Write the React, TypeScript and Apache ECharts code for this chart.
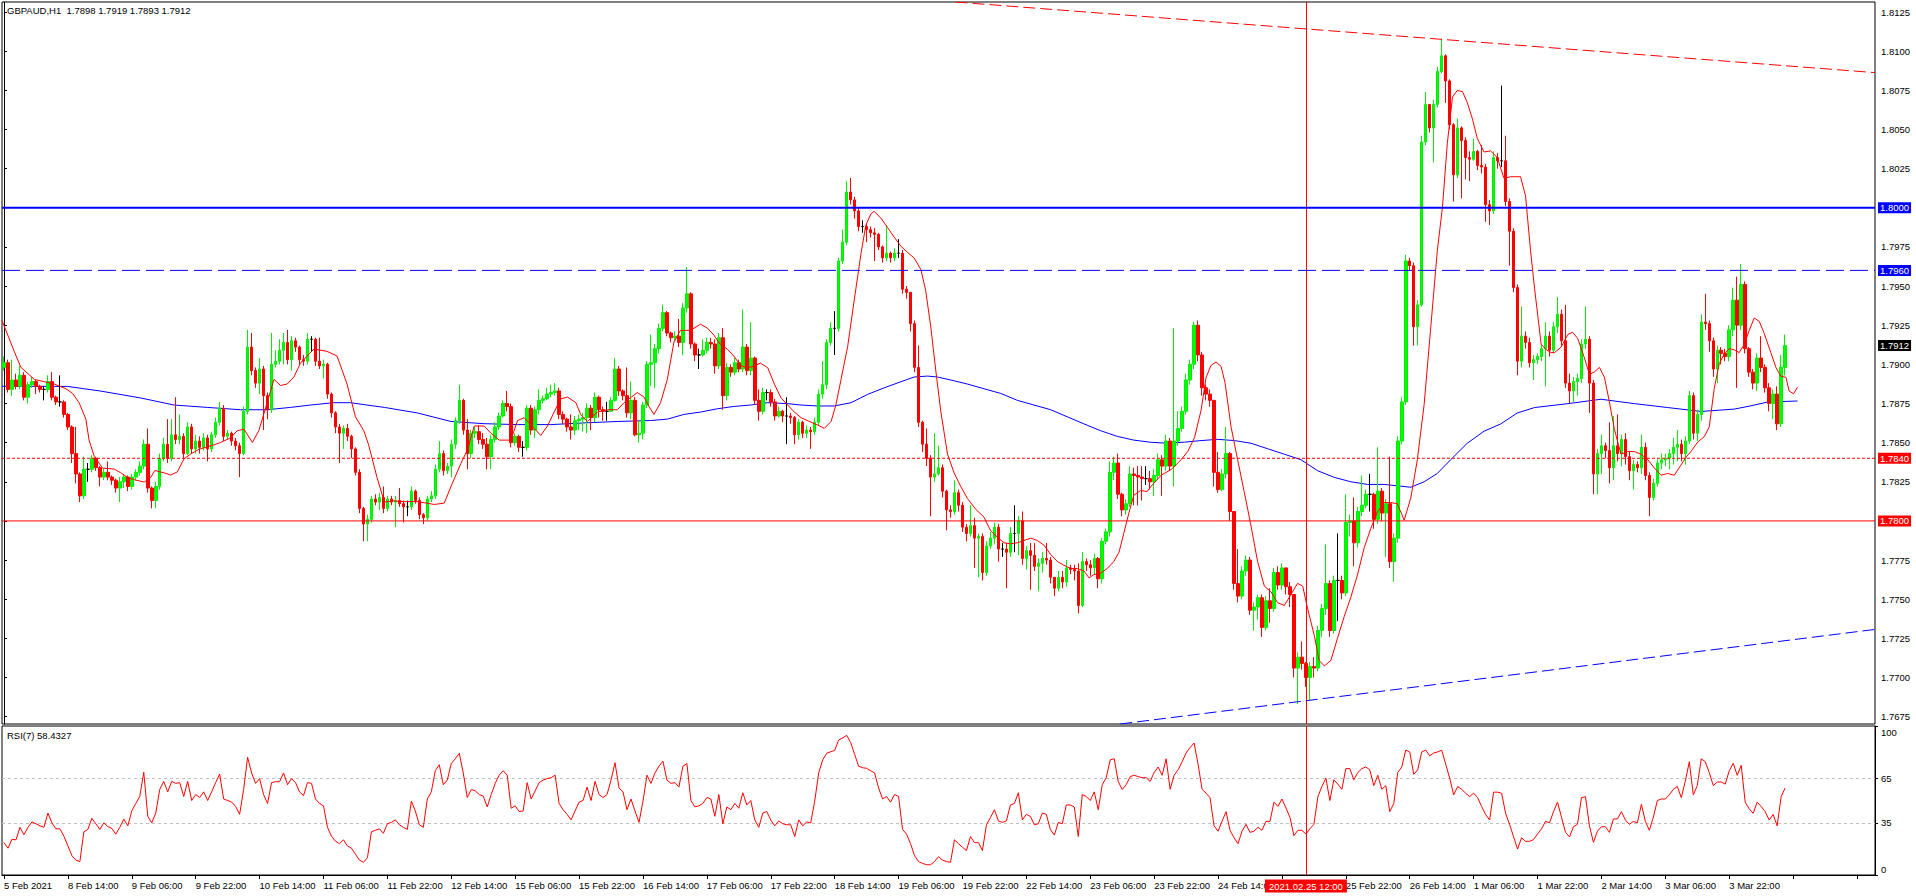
import React, { useEffect, useRef } from "react";
import * as echarts from "echarts";

// prices are stored in pips above 1.7000 (e.g. 912 = 1.7912)
const BASE = 1.7;
const FIRST_OPEN = 898;
const SLOTS = 469; // bars 0..446 plus empty shift space on the right

const closes = [
  901,884,890,886,893,879,887,889,886,884,884,889,879,876,876,868,
  860,843,830,816,833,833,840,834,828,831,828,826,821,825,828,822,
  828,831,835,849,821,813,822,840,849,840,855,852,854,843,860,846,
  851,847,853,846,855,863,872,854,856,851,848,843,870,911,896,888,
  897,880,871,900,902,909,914,903,915,911,903,902,916,916,902,899,
  900,881,869,860,856,859,854,846,831,808,798,801,814,812,815,808,
  814,812,813,811,809,809,819,813,804,802,814,816,833,843,832,835,
  849,864,877,858,843,856,857,852,849,841,852,860,867,875,873,850,
  854,847,847,872,858,871,877,878,881,882,883,868,865,860,858,864,
  865,866,872,866,879,871,870,870,877,897,883,880,869,877,855,856,
  874,900,901,910,923,933,920,917,918,914,936,945,913,906,906,909,
  914,913,899,917,880,898,895,901,897,911,896,904,877,870,882,882,
  876,867,870,867,867,866,855,863,856,858,857,863,881,887,914,923,
  923,966,978,1010,1005,998,988,988,986,984,983,975,968,971,968,971,
  971,948,946,926,898,863,849,840,828,830,834,819,807,806,818,810,
  796,792,797,789,790,767,784,789,796,782,782,780,792,792,800,776,
  781,778,771,773,776,775,764,757,764,761,770,769,768,746,774,772,
  770,776,763,787,793,831,837,817,807,811,830,829,828,827,827,825,
  829,839,835,851,835,851,859,870,890,900,925,906,885,881,877,831,
  820,830,843,806,760,752,768,775,743,745,751,732,749,744,767,759,
  770,758,753,706,713,709,700,707,706,730,744,760,730,762,762,754,
  799,800,786,806,810,817,817,801,819,805,811,774,789,851,876,966,
  963,924,938,1042,1066,1051,1066,1087,1097,1081,1053,1021,1051,1043,1032,1031,
  1036,1027,1026,1002,998,1032,1030,1030,1004,985,949,902,918,914,901,903,
  905,910,918,909,924,932,915,888,883,889,891,913,916,888,830,843,
  848,845,834,848,843,852,841,832,836,834,847,829,815,824,837,839,
  840,843,847,849,843,851,880,856,868,927,926,915,897,909,907,905,
  922,941,925,951,910,895,888,904,898,885,875,881,862,898,912,
];

const highs = [
  905,903,903,894,899,895,889,892,890,887,886,893,895,880,893,877,
  869,861,860,831,841,837,842,841,835,833,838,829,827,828,830,829,
  830,833,838,852,859,822,825,843,853,865,865,879,868,856,863,862,
  855,854,856,855,857,866,876,874,858,857,853,850,873,922,920,898,
  904,899,882,920,909,916,920,922,918,917,912,906,920,918,917,917,
  903,901,882,870,862,861,862,855,847,833,809,804,816,817,818,822,
  816,816,816,821,813,813,822,820,815,805,816,819,836,851,845,837,
  852,866,887,878,865,858,860,861,856,853,855,863,869,877,883,875,
  856,855,851,874,874,873,884,880,885,887,888,885,870,866,868,867,
  868,869,875,874,882,880,873,876,879,904,899,884,898,889,879,864,
  876,902,919,913,926,938,934,921,921,929,939,962,946,914,910,916,
  917,917,916,920,923,901,900,904,903,935,913,927,905,884,885,884,
  884,878,873,871,879,869,867,865,864,861,860,866,884,902,916,927,
  934,968,986,1017,1019,1007,1000,992,990,988,987,984,976,989,972,974,
  980,973,950,946,928,912,864,859,842,856,848,836,820,810,826,820,
  812,798,810,802,792,792,787,793,799,798,786,786,796,810,803,806,
  784,786,786,776,780,786,777,764,768,768,775,772,772,773,780,776,
  775,779,777,789,795,838,841,843,818,814,835,834,835,835,835,832,
  833,843,842,855,853,923,870,873,894,903,927,928,908,887,884,877,
  844,833,860,844,806,782,771,778,777,748,753,753,752,757,770,771,
  773,770,761,753,716,723,710,710,713,733,747,785,762,765,792,765,
  817,804,815,809,829,820,830,818,847,821,814,841,792,854,879,970,
  968,965,941,1046,1074,1066,1069,1090,1108,1098,1082,1054,1057,1052,1045,1036,
  1044,1037,1040,1028,1005,1036,1035,1078,1046,1006,987,951,937,921,917,906,
  907,913,927,921,927,943,935,938,894,892,894,916,937,918,890,846,
  855,850,863,867,868,855,856,844,839,838,855,850,831,827,840,843,
  843,846,853,858,852,854,883,882,871,932,945,928,917,912,911,910,
  925,949,956,964,953,911,897,907,918,900,888,884,886,906,919,
];

const lows = [
  896,882,880,884,884,877,875,885,881,882,877,882,877,874,873,866,
  858,837,824,812,814,825,831,832,822,826,826,823,818,812,821,819,
  820,826,829,833,818,808,808,820,838,837,838,849,849,840,842,843,
  843,843,845,838,844,853,861,851,852,848,845,828,842,868,893,885,
  881,858,865,869,898,900,900,900,896,908,900,899,900,908,899,897,
  891,878,866,856,837,846,851,840,829,805,787,787,799,810,807,805,
  806,810,796,809,799,803,807,811,801,798,800,812,814,831,829,830,
  828,846,862,855,833,840,853,849,846,833,833,850,858,866,870,847,
  848,844,841,845,855,853,868,875,877,879,880,865,862,857,852,855,
  858,857,856,858,863,866,864,864,872,876,880,877,866,865,854,850,
  852,872,886,885,907,921,918,914,915,911,906,933,910,902,897,905,
  907,910,894,897,871,877,892,893,895,895,893,893,874,864,868,877,
  873,864,866,863,849,862,849,852,853,853,846,855,861,878,884,912,
  906,921,964,976,1002,993,985,984,978,981,966,973,965,966,965,966,
  968,945,942,921,895,860,844,835,803,825,829,815,794,802,804,806,
  793,787,790,770,764,762,765,782,785,774,777,757,777,780,778,772,
  769,756,768,755,767,772,760,752,755,757,758,766,762,741,745,768,
  765,766,757,760,785,790,826,814,803,804,809,810,810,813,823,820,
  816,826,816,832,832,822,848,857,868,887,897,902,880,877,873,822,
  818,819,827,800,756,748,750,765,740,730,737,726,730,735,742,756,
  756,753,745,700,683,705,694,685,700,704,726,740,726,728,736,750,
  752,790,771,783,803,808,806,795,798,800,777,770,761,786,849,874,
  960,912,912,937,1040,1048,1029,1064,1086,1067,1050,1004,1019,1006,1018,1017,
  1030,1024,1022,991,989,996,1025,1026,1001,963,946,893,898,910,898,890,
  900,902,886,905,907,920,912,885,875,876,880,888,910,869,817,817,
  830,840,824,826,838,835,836,826,820,831,830,826,803,813,822,833,
  835,833,836,838,838,836,849,852,851,864,922,908,892,888,900,902,
  902,918,885,922,907,892,884,883,895,882,870,865,858,860,893,
];

// fast moving average (red), read as [bar, pips]
const maFast = [
  [-0.5,928],[2.6,908],[4.25,898],[7.6,890.4],[12.6,887.4],[15.5,884.4],[17.2,881.4],[18.8,875.5],[20.5,865],[21.3,851.6],
  [22.6,841.2],[24.7,833.7],[27.6,833.1],[29.25,830.7],[30.9,827.8],[32.6,826.3],[35.1,824.8],[36.75,827.8],[37.75,832.2],[40.1,830.7],
  [41.75,829.3],[43.4,831.3],[45.1,839.7],[46.75,842.7],[48.8,845.7],[52.6,848.6],[54.25,850.1],[56.75,853.1],[58.4,857.6],[60.1,858.5],
  [62.2,850.1],[63.8,857.6],[65.9,875.5],[67.6,890.4],[69.25,886.5],[70.9,887.4],[72.6,891.9],[74.25,900.8],[75.9,905.3],[77.6,909.8],
  [80.9,908.3],[83.4,905.3],[85.9,887.4],[88,866.5],[90.1,857.6],[91.3,848.6],[93.4,827.8],[95.25,812],
  [97.75,812.8],[100.25,812.3],[103.6,812.3],[107.75,810.5],[110.25,811.4],[111.9,821.8],[114.4,836.7],[116.1,845.7],[117.75,860.6],[120.25,860.6],
  [121.9,856.1],[124,851.6],[126.9,851.6],[128.6,864.1],[130.25,865.9],[132.75,859.1],[134.4,854.6],[136.1,860.6],[137.75,869.5],[139.4,877.9],
  [141.1,879.1],[143.2,875.5],[144.4,868],[146.1,863.5],[148.6,869.5],[151.1,871],[153.6,871],[155.25,875.5],[158.6,882],[160.25,879.1],
  [161.5,873.1],[162.75,868],[164.4,875.5],[166.1,890.4],[167.75,914.2],[169.4,921.7],[171.9,921.7],[174.4,925.6],[176.1,923.2],[177.75,918.7],
  [179.4,912.7],[181.1,909.8],[182.75,905.3],[184.4,899.3],[186.1,897.8],[187.75,898.7],[189.4,900.8],[191.25,897.8],
  [192.9,887.4],[194.6,878.4],[196.25,874],[197.9,869.5],[199.6,865.9],[202.1,863],[203.75,861.2],[205.4,859.1],[207.1,863.5],[208.3,874],
  [209.6,890.4],[211.25,911.3],[212.9,941.1],[214.6,970.9],[215.8,988.8],[217.1,996.2],[217.9,997.7],[219.6,993.3],[221.25,987.3],[222.9,981.3],
  [224.6,975.4],[226.25,971.5],[227.9,967.9],[229.6,960.5],[230.8,947],[232.1,923.2],[233.3,896.4],[234.6,869.5],[236.25,842.7],[237.9,830.7],
  [239.6,821.8],[241.25,814.3],[243.3,807.5],[245.4,802.4],[247.1,793.5],[248.75,789.6],[250.4,786],[252.1,785.4],[253.75,786],[255.4,787.5],
  [257.1,789],[258.75,787.5],[260.4,784.5],[262.1,778.6],[263.75,774.1],[265.4,771.7],[267.1,769.6],[268.75,769.6],[270.4,768.1],[271.7,763.6],
  [272.9,765.7],[274.6,766.6],[276.25,769.6],[277.9,774.1],[279.2,780],[280.4,792],[281.7,805.4],[282.9,816.4],[284.6,819.4],[286.25,818.8],
  [287.25,822.2],[289.75,829.2],[292.25,832.8],[294.75,839.1],[296.4,844.3],[298.1,853.1],[299.75,870.7],[301,891.7],[302.25,899.4],[303.5,901.5],
  [304.75,898.7],[305.75,888.2],[307.25,860.1],[308.9,839.1],[310.6,818],[312.25,796.9],[313.9,774.1],[315.6,758.3],[317.25,754.8],[318.9,747.8],
  [320.6,746],[322.25,753],[323.9,760.1],[325.2,758.3],[326.4,744.3],[328.1,726.8],[329.3,710.9],[330.6,707.4],[332.25,710.9],[333.9,725],
  [335.6,739],[337.25,751.3],[338.9,765.4],[340.6,782.9],[342.25,795.2],[343.9,805.7],[345.6,811.7],[347.25,811.7],[348.9,811],[350.6,800.5],
  [352.25,814.5],[353.9,839.1],[355.6,874.2],[357.25,923.3],[358.9,972.5],[360.2,1000.5],[361.4,1040.9],[362.7,1070.7],[363.9,1074.9],[365.2,1074.2],
  [366.4,1067.2],[367.7,1056.7],[368.9,1044.4],[370.6,1035.6],[372.25,1036.3],[373.9,1032.1],[375.6,1018.8],[377.25,1019.8],[379.75,1019.8],[381,1007.5],
  [382.25,972.5],[383.25,948.6],[384.1,930.3],[384.9,912.8],[386.2,909.3],[387.4,907.5],[388.25,907.5],[389.9,911],[391.6,919.1],[392.8,920.5],
  [394.1,916.3],[395.75,904],[397,893.5],[398.25,895.2],[399.5,898],[400.75,891.7],[402,875.9],[403.25,858.4],[404.9,842.6],[406.6,844.3],
  [408.25,844.3],[409.9,842.6],[411.6,839.1],[413.25,833.8],[414.9,829.2],[416.6,830.3],[418.25,829.2],[419.9,835.6],[421.2,840.8],[422.4,844.3],
  [424.1,850.3],[425.75,853.8],[427,860.1],[428.25,884.7],[429.5,900.5],[430.75,906.5],[432,910],[433.25,909.3],[434.5,907.5],[435.75,912.8],
  [437,921.6],[438.25,929.6],[439.5,927.5],[440.75,919.8],[442.4,907.5],[443.7,898],[444.9,892.4],[446.2,891.7],[447,883],[448.1,881.2],[449.1,885.4],
];

// slow moving average (blue), read as [bar, pips]
const maSlow = [
  [-0.5,886],[15.9,885.9],[24.25,882.9],[34.25,878.5],[42.6,874],[50.9,872.5],[59.25,871],[65.9,871],[71.75,872.5],[76.75,874],
  [82.6,875.5],[86.75,875.5],[90.9,874],[95.25,872.5],[103.6,868.9],[111.9,863.5],[120.25,862.1],[128.6,861.5],[136.9,861.5],[145.25,862.6],
  [153.6,863.5],[161.9,864.1],[166.1,865],[170.25,868],[174.4,869.5],[178.6,871.6],[182.75,873.1],[186.9,874],[191.25,875.5],[196.25,874.9],
  [199.6,874],[203.75,873.4],[207.9,873.4],[212.1,875.5],[216.25,880.8],[220.4,885],[224.6,888.9],[227.9,891.9],[231.25,892.5],[233.75,891.9],
  [237.9,889.5],[241.25,887.4],[245.4,884.4],[249.6,881.4],[253.75,877],[257.9,874],[262.1,871],[266.25,866.5],[270.4,862],[274.6,857.6],
  [278.75,854],[282.9,851.6],[287.25,850.2],[291.4,849.6],[295.6,850.3],[299.75,851.3],[303.9,852.1],[308.1,851.3],[312.25,849.6],[316.4,846.1],
  [320.6,842.6],[324.75,839.1],[328.9,832.1],[333.1,827.8],[337.25,825],[341.4,823.3],[345.6,823.3],[349.75,822.2],[352.25,821.5],[355.6,825],
  [358.9,830.3],[362.25,839.1],[366.4,849.6],[370.6,857.3],[374.75,861.9],[378.9,868.9],[383.25,872.4],[391.6,874.9],[399.9,877.7],[408.25,874.9],
  [416.6,872.4],[424.9,869.9],[433.25,871.4],[437.4,873.5],[441.6,875.9],[449.1,876.6],
];

const rsi7 = [
  21.7,18,24,23.6,32,27,32,35.6,34.4,33,32,41.6,35,31,31,26,19.5,13,10,9,
  29,30.6,38,34.4,30.6,35,32.5,31.3,27.4,32,37.5,33,43,48,52.7,69,39.4,35,41.6,57.4,
  62.8,55.8,62.8,61.5,62,52.7,62.8,50,54,52,55.8,50,55.8,62,67.8,51,50,49,46,40.7,
  57.4,79,68.5,61.5,64.7,54,48,62,62.6,62.6,68.5,60.6,64.7,62,55.8,53.3,62,61.5,51,48,
  46.4,32,26,22.7,21,23.6,19.5,18,14,10,8.5,11.6,29,30,31,28,
  34.4,35.3,37,33.7,32,30.6,49.5,43,33.7,32,51,55.8,70,74,60.6,63.7,74.8,78,81.7,68.5,
  52,57.4,56.5,54,53,45.7,54,61.5,67,70,67,44.8,46.4,42.6,43,62,51,56.5,62,63.7,
  64.7,65.3,67,48,43.8,40.7,37,43,48.9,50,59,50,62.8,54,52,54,63.7,75.4,58.4,55.8,
  43.8,51,43,35.3,49.5,67,61.5,68.5,73,76.4,63.7,61.5,62,59,73,74.8,50,45.7,46.4,48,
  52,51,39.4,54,34.4,45.7,43.8,48,44.8,55.2,47,50,37,32,41.6,42.6,
  36.9,33,36.3,34.4,33.7,33.7,25.8,37,33,35.6,35,49.5,68.5,77.3,81.7,82.7,83.6,90.6,92,93.7,
  89,81,73,72,71.6,70,68.5,58.4,51,52.7,48.9,54,52.7,30.6,27.4,21,13,9,7.8,6.9,
  6.9,9,12.3,10,9,8.5,23.6,21,18.6,16.4,25.8,21.7,21.7,16.4,33.7,38.5,43.8,36.3,35.3,36.3,
  47,48,55.2,37,40.7,39.4,33.7,34.4,41.6,40.7,30.6,26.8,35.3,34.4,47,47,45.7,25.8,54,52.7,
  50,55.8,43.8,60.6,65.3,77.3,78,62.8,57.4,60.6,66,67,66,65.3,65.3,62.8,
  68.8,72.5,66.9,78,57.5,66.9,70.6,76,81.9,85.6,88.6,74.4,57.5,54.9,51.9,33,29.4,36,42.5,30,
  25,21,29.4,34,28.6,29.4,32,30,36,36,48.9,46,51,45,38.8,26.4,30,30,27.5,31,
  34,52.6,59.4,65,50,63.9,61,57.5,71.4,71.4,63.9,68.8,71.4,72.5,70.6,60,66.9,57.5,60,42.5,
  48,68.8,72.5,83.8,82.6,67.6,70.6,82.6,83.8,80,81.9,82.6,83.8,74.4,65,53.8,59.4,57.5,54.9,52.6,
  54.9,51.9,46,40.6,36.9,55.6,55.6,54.9,41.4,34,25.6,17.4,25,22.6,22.6,23.8,
  27.5,31,36,35,42.5,48.9,38.8,28.6,25.6,32.4,34,51.9,52.6,33,21.9,29.4,32.4,32.4,28.6,37.6,
  37.6,42.5,36.9,34,36,35,47.4,36,30,38.8,50,51,51,53.8,57.5,59.4,51.9,63,76,53.8,
  60,78,76,68.8,60,62.4,62.4,61,69.9,75,66.9,73.6,48.9,44.4,41.4,48.9,46,42.5,36.9,40.6,
  33,52.6,58.43,
];

// trend lines as [bar, pips]
const trendHigh = [[238.25, 1131.4], [468.5, 1086.3]];
const trendLow = [[279.5, 670.3], [468.5, 730.7]];

const priceTicks = [
  1.7675, 1.77, 1.7725, 1.775, 1.7775, 1.78, 1.7825, 1.785, 1.7875, 1.79,
  1.7925, 1.795, 1.7975, 1.8, 1.8025, 1.805, 1.8075, 1.81, 1.8125,
];
const rsiTicks = [0, 35, 65, 100];
const rsiLevels = [65, 35];
// the label under the crosshair tag (25 Feb 06:00) is hidden in the reference
const xTickLabels = [
  "5 Feb 2021", "8 Feb 14:00", "9 Feb 06:00", "9 Feb 22:00", "10 Feb 14:00", "11 Feb 06:00",
  "11 Feb 22:00", "12 Feb 14:00", "15 Feb 06:00", "15 Feb 22:00", "16 Feb 14:00", "17 Feb 06:00",
  "17 Feb 22:00", "18 Feb 14:00", "19 Feb 06:00", "19 Feb 22:00", "22 Feb 14:00", "23 Feb 06:00",
  "23 Feb 22:00", "24 Feb 14:00", "", "25 Feb 22:00", "26 Feb 14:00", "1 Mar 06:00",
  "1 Mar 22:00", "2 Mar 14:00", "3 Mar 06:00", "3 Mar 22:00",
];
const LABEL_EVERY = 16;

// horizontal price levels: [price, colour, width, dash, tag]
const levelPrices = [1.8, 1.796, 1.784, 1.78];
const levelColors = ["#0000ff", "#0000ff", "#ff0000", "#ff0000"];
const levelWidths = [2, 1, 1, 1];
const levelDashes: any[] = ["solid", [18, 6], [3, 2], "solid"];
const levelTags = ["1.8000", "1.7960", "1.7840", "1.7800"];
const lastPrice = 1.7912;
const lastTag = "1.7912";
const crossBar = 326;
const crossLabel = "2021.02.25 12:00";
const titleText = "GBPAUD,H1  1.7898 1.7919 1.7893 1.7912";
const rsiTitle = "RSI(7) 58.4327";

const Y_MIN = 670.3;
const Y_MAX = 1131.4;

const FONT = '"Liberation Sans", Arial, sans-serif';
const FS = 9.5;

const toPrice = (v: number) => +(BASE + v / 10000).toFixed(5);

export default function App() {
  const ref = useRef<HTMLDivElement>(null);

  useEffect(() => {
    if (!ref.current) return;
    const chart = echarts.init(ref.current, undefined, { renderer: "svg" });

    const cats = Array.from({ length: SLOTS }, (_, i) => String(i));
    const candles = closes.map((c, i) => {
      const o = i === 0 ? FIRST_OPEN : closes[i - 1];
      const h = Math.max(highs[i], o, c);
      const l = Math.min(lows[i], o, c);
      return [toPrice(o), toPrice(c), toPrice(l), toPrice(h)];
    });
    const showLabel = (i: number) => i % LABEL_EVERY === 0;

    const tagLabel = (bg: string, text: string) => ({
      show: true,
      formatter: text,
      backgroundColor: bg,
      color: "#ffffff",
      padding: [1, 2, 0, 2],
      distance: 3,
      fontSize: FS,
      fontFamily: FONT,
    });

    const levelSeries = levelPrices.map((p, k) => ({
      name: "level " + levelTags[k],
      type: "line",
      xAxisIndex: 1,
      yAxisIndex: 0,
      data: [[-0.5, p], [SLOTS - 0.5, p]],
      symbol: "none",
      silent: true,
      clip: false,
      lineStyle: { color: levelColors[k], width: levelWidths[k], type: levelDashes[k] },
      endLabel: tagLabel(levelColors[k], levelTags[k]),
      z: 6,
    }));

    const lastSeries = {
      name: "last",
      type: "line",
      xAxisIndex: 1,
      yAxisIndex: 0,
      data: [[SLOTS - 1.5, lastPrice], [SLOTS - 0.5, lastPrice]],
      symbol: "none",
      silent: true,
      clip: false,
      lineStyle: { color: "rgba(0,0,0,0)", width: 1 },
      endLabel: tagLabel("#000000", lastTag),
      z: 7,
    };

    chart.setOption({
      animation: false,
      backgroundColor: "#ffffff",
      textStyle: { fontFamily: FONT },
      grid: [
        { left: 2, top: 2, width: 1873, height: 722, show: true, borderColor: "#000", borderWidth: 1 },
        { left: 2, top: 726, width: 1873, height: 149, show: true, borderColor: "#000", borderWidth: 1 },
      ],
      xAxis: [
        { type: "category", gridIndex: 0, data: cats, boundaryGap: true, show: false },
        { type: "value", gridIndex: 0, min: -0.5, max: SLOTS - 0.5, show: false },
        {
          type: "category",
          gridIndex: 1,
          data: cats,
          boundaryGap: true,
          axisLine: { show: true, lineStyle: { color: "#000" } },
          axisTick: {
            show: true,
            interval: (i: number) => showLabel(i),
            alignWithLabel: true,
            length: 4,
            lineStyle: { color: "#000" },
          },
          axisLabel: {
            interval: (i: number) => showLabel(i),
            formatter: (_v: string, i: number) =>
              showLabel(i) ? xTickLabels[i / LABEL_EVERY] ?? "" : "",
            align: "left",
            margin: 5,
            fontSize: FS,
            color: "#000",
            fontFamily: FONT,
          },
          splitLine: { show: false },
        },
      ],
      yAxis: [
        {
          type: "value",
          gridIndex: 0,
          position: "right",
          min: toPrice(Y_MIN),
          max: toPrice(Y_MAX),
          axisLine: { show: true, lineStyle: { color: "#000" } },
          axisTick: { show: true, customValues: priceTicks, length: 3, lineStyle: { color: "#000" } },
          axisLabel: {
            customValues: priceTicks,
            formatter: (v: number) => v.toFixed(4),
            margin: 6,
            fontSize: FS,
            color: "#000",
            fontFamily: FONT,
          },
          splitLine: { show: false },
        },
        {
          type: "value",
          gridIndex: 1,
          position: "right",
          min: 0,
          max: 100,
          axisLine: { show: true, lineStyle: { color: "#000" } },
          axisTick: { show: true, customValues: rsiTicks, length: 3, lineStyle: { color: "#000" } },
          axisLabel: {
            customValues: rsiTicks,
            formatter: (v: number) => (v === 100 ? "{t|100}" : v === 0 ? "{b|0}" : String(v)),
            rich: {
              t: { padding: [12, 0, 0, 0], fontSize: FS, color: "#000", fontFamily: FONT },
              b: { padding: [0, 0, 12, 0], fontSize: FS, color: "#000", fontFamily: FONT },
            },
            margin: 6,
            fontSize: FS,
            color: "#000",
            fontFamily: FONT,
          },
          splitLine: { show: false },
        },
      ],
      series: [
        {
          name: "MA slow",
          type: "line",
          xAxisIndex: 1,
          yAxisIndex: 0,
          data: maSlow.map(([b, v]) => [b, toPrice(v)]),
          symbol: "none",
          silent: true,
          lineStyle: { color: "#0000ff", width: 1 },
          z: 3,
        },
        {
          name: "GBPAUD",
          type: "candlestick",
          xAxisIndex: 0,
          yAxisIndex: 0,
          data: candles,
          barWidth: 3,
          silent: true,
          itemStyle: {
            color: "#00ff00",
            color0: "#ff0000",
            borderColor: "#00ee00",
            borderColor0: "#ff0000",
            borderColorDoji: "#000000",
            borderWidth: 1,
          },
          z: 4,
          markLine: {
            silent: true,
            symbol: ["none", "none"],
            animation: false,
            label: { show: false },
            data: [{ xAxis: String(crossBar), lineStyle: { color: "#ff0000", width: 1, type: "solid" } }],
          },
        },
        {
          name: "MA fast",
          type: "line",
          xAxisIndex: 1,
          yAxisIndex: 0,
          data: maFast.map(([b, v]) => [b, toPrice(v)]),
          symbol: "none",
          silent: true,
          lineStyle: { color: "#ff0000", width: 1 },
          z: 5,
        },
        {
          name: "Trend high",
          type: "line",
          xAxisIndex: 1,
          yAxisIndex: 0,
          data: trendHigh.map(([b, v]) => [b, toPrice(v)]),
          symbol: "none",
          silent: true,
          lineStyle: { color: "#ff0000", width: 1, type: [12, 5] },
          z: 5,
        },
        {
          name: "Trend low",
          type: "line",
          xAxisIndex: 1,
          yAxisIndex: 0,
          data: trendLow.map(([b, v]) => [b, toPrice(v)]),
          symbol: "none",
          silent: true,
          lineStyle: { color: "#0000ff", width: 1, type: [12, 5] },
          z: 5,
        },
        ...levelSeries,
        lastSeries,
        {
          name: "RSI(7)",
          type: "line",
          xAxisIndex: 2,
          yAxisIndex: 1,
          data: rsi7,
          symbol: "none",
          silent: true,
          lineStyle: { color: "#ff0000", width: 1 },
          z: 5,
          markLine: {
            silent: true,
            symbol: ["none", "none"],
            animation: false,
            label: { show: false },
            data: [
              ...rsiLevels.map((v) => ({ yAxis: v, lineStyle: { color: "#c0c0c0", width: 1, type: [3, 3] } })),
              { xAxis: String(crossBar), lineStyle: { color: "#ff0000", width: 1, type: "solid" } },
            ],
          },
        },
      ],
    });

    const cx = chart.convertToPixel({ xAxisIndex: 2 }, String(crossBar)) as number;
    chart.setOption({
      graphic: [
        {
          type: "text",
          left: 7,
          top: 5,
          silent: true,
          style: { text: titleText, fill: "#000", font: `${FS}px ${FONT}` },
        },
        {
          type: "text",
          left: 7,
          top: 730,
          silent: true,
          style: { text: rsiTitle, fill: "#000", font: `${FS}px ${FONT}` },
        },
        {
          type: "text",
          x: cx,
          y: 886,
          z: 100,
          silent: true,
          style: {
            text: crossLabel,
            fill: "#ffffff",
            font: `${FS}px ${FONT}`,
            align: "center",
            verticalAlign: "middle",
            backgroundColor: "#ff0000",
            padding: [2, 4, 1, 4],
          },
        },
      ],
    });

    return () => chart.dispose();
  }, []);

  return (
    <div
      ref={ref}
      style={{ position: "fixed", left: 0, top: 0, width: 1916, height: 896, background: "#fff" }}
    />
  );
}
